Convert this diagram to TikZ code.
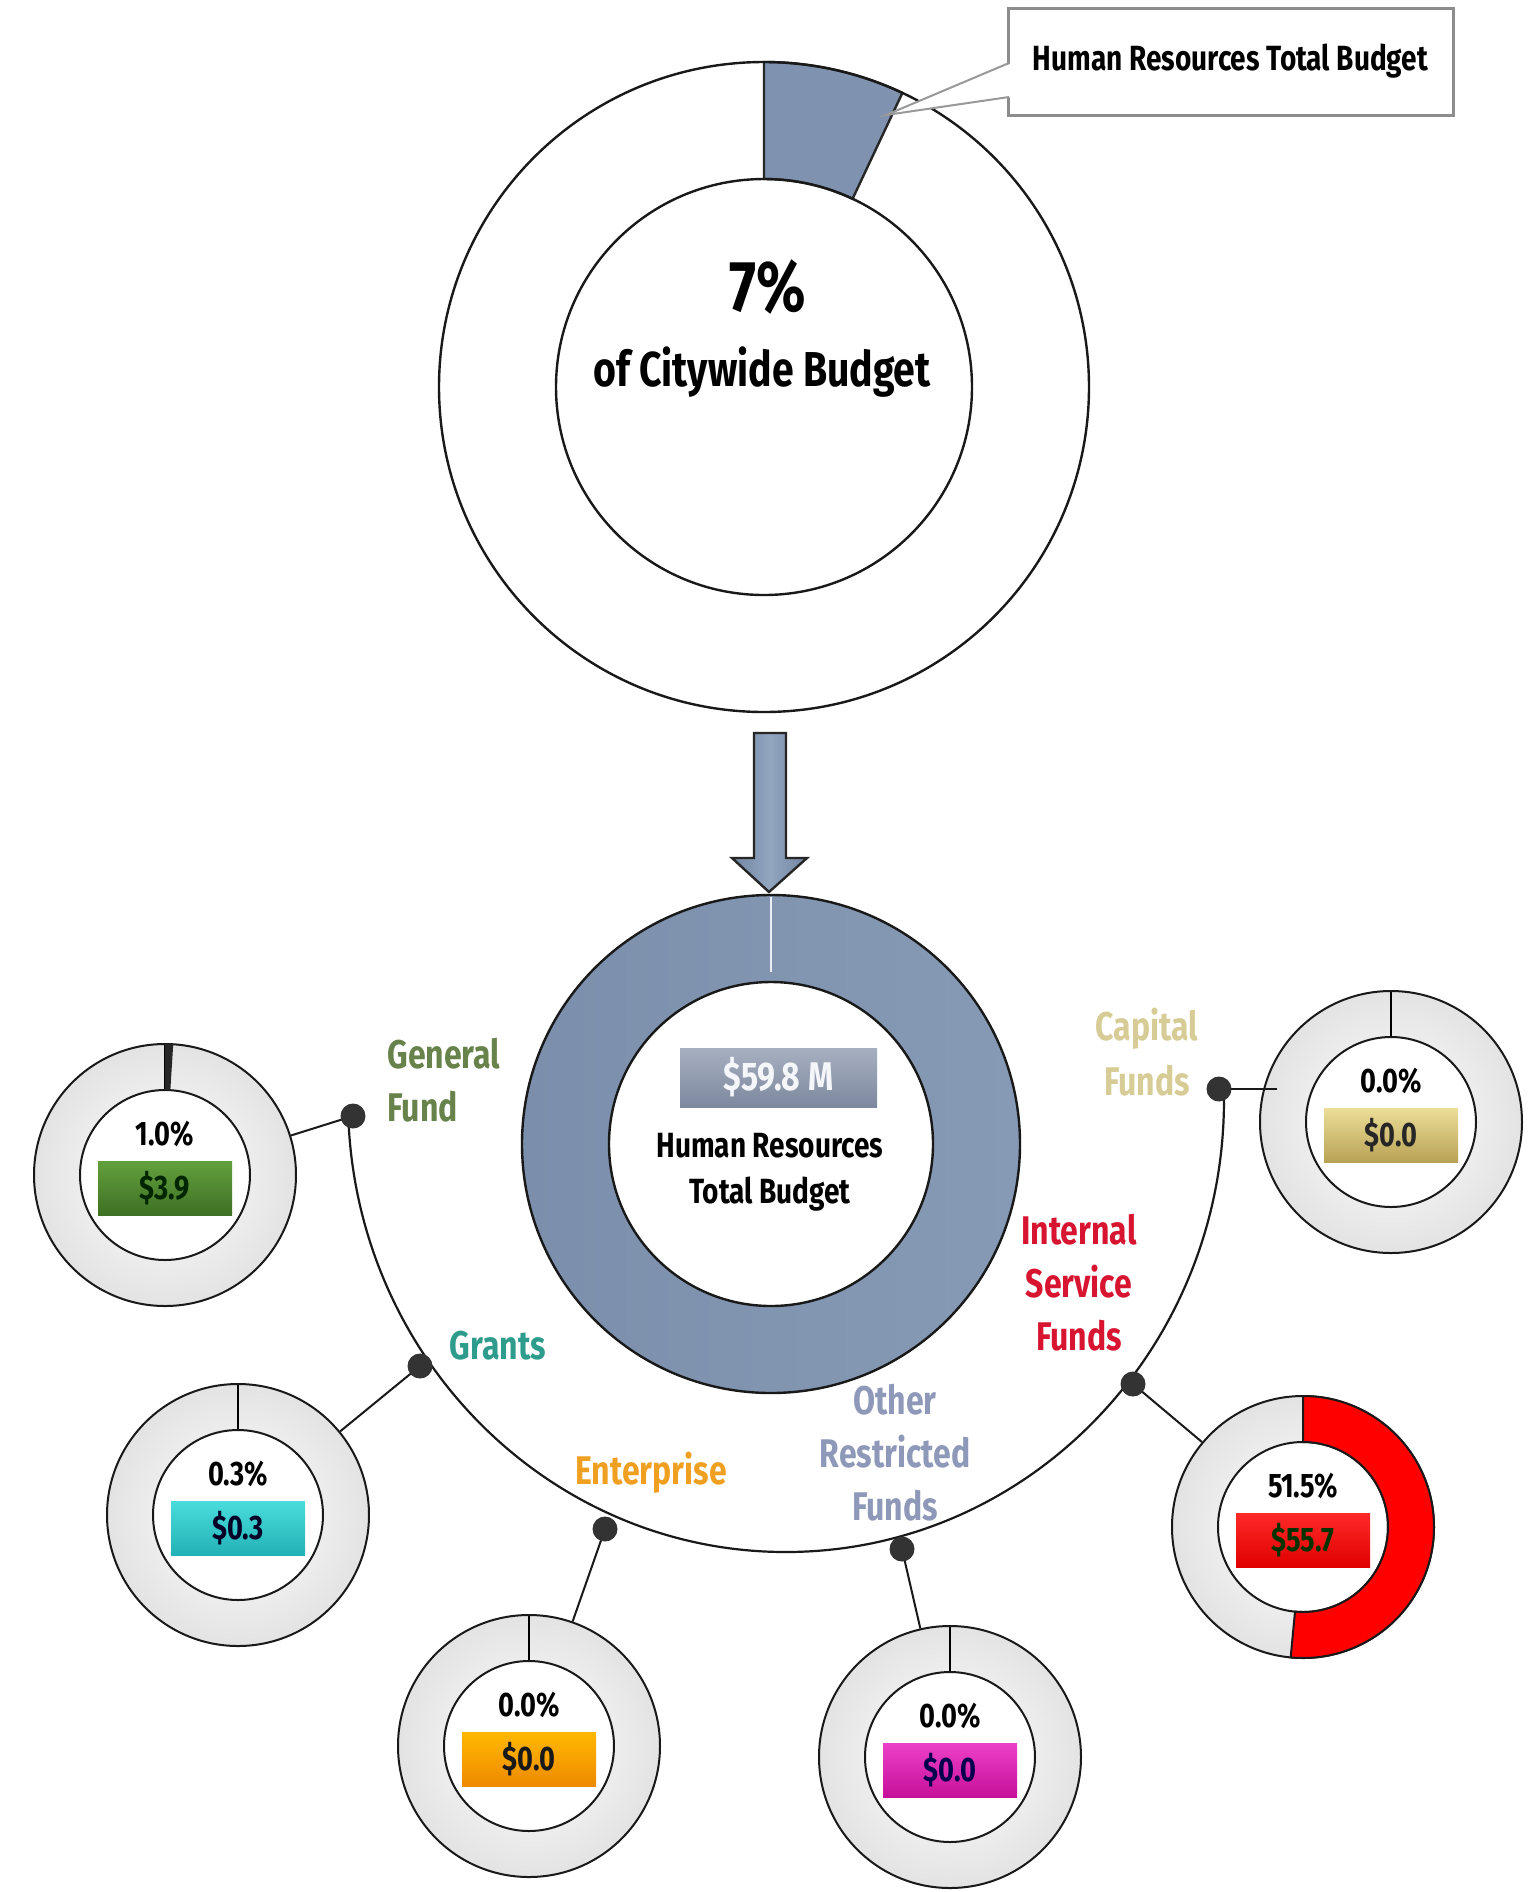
\documentclass[tikz,border=0pt]{standalone}
\usepackage{fontspec}
\setmainfont{Fira Sans}
\newfontfamily\agency{Fira Sans}[FakeStretch=0.8]
\usetikzlibrary{calc}
\definecolor{slate}{HTML}{7F93B0}
\definecolor{slateL}{HTML}{93A6C0}
\definecolor{slateD}{HTML}{7184A2}
\definecolor{midL}{HTML}{7B8EAB}
\definecolor{midR}{HTML}{879AB5}
\definecolor{gfC}{HTML}{67824A}
\definecolor{grC}{HTML}{2E9C8C}
\definecolor{enC}{HTML}{F0A020}
\definecolor{orC}{HTML}{8E98B8}
\definecolor{isC}{HTML}{D81530}
\definecolor{cfC}{HTML}{D8CC96}
\definecolor{gfT}{HTML}{62A03C}\definecolor{gfB}{HTML}{3F7024}
\definecolor{grT}{HTML}{4ADCDC}\definecolor{grB}{HTML}{22B2B6}
\definecolor{enT}{HTML}{FFB800}\definecolor{enB}{HTML}{EE8A00}
\definecolor{orT}{HTML}{EC40C8}\definecolor{orB}{HTML}{C6109A}
\definecolor{isT}{HTML}{FF2A2A}\definecolor{isB}{HTML}{E00000}
\definecolor{cfT}{HTML}{ECDE98}\definecolor{cfB}{HTML}{B8A255}
\definecolor{totT}{HTML}{A7B0C1}\definecolor{totB}{HTML}{7D889E}
\tikzset{
  ring/.style={circle, draw=black!90, line width=1pt, inner sep=0pt},
  dotnode/.style={circle, fill=black!80, inner sep=0pt, minimum size=12.5pt},
  lbl/.style={font=\agency\bfseries\fontsize{20}{26.5}\selectfont, align=center, inner sep=0pt},
  pct/.style={font=\agency\bfseries\fontsize{17}{19}\selectfont, inner sep=0pt},
  valbox/.style={minimum width=67pt, minimum height=27pt, inner sep=0pt, font=\agency\bfseries\fontsize{17}{19}\selectfont},
  conn/.style={draw=black!90, line width=1pt},
}
\newcommand\fundonut[8]{%
  \coordinate (#1c) at (#2,-#3);
  \shade[inner color=white, outer color=black!11, even odd rule] (#1c) circle[radius=131] (#1c) circle[radius=85];
  \draw[line width=1pt] ($(#1c)+(0,131)$) -- ($(#1c)+(0,85)$);
  \node[ring, minimum size=131pt] (#1D) at (#1c) {};
  \node[ring, minimum size=85pt] (#1I) at (#1c) {};
  \node[pct] (#1P) at ($(#1c)+(0,41)$) {#4};
  \node[valbox, top color=#6, bottom color=#7, text=#8] (#1V) at ($(#1c)+(0,-13)$) {#5};
}
\begin{document}
\begin{tikzpicture}[x=0.5pt,y=0.5pt]
\useasboundingbox (0,0) rectangle (1537,-1892);
\fill[white] (0,0) rectangle (1537,-1892);

% ---------- top donut ----------
\coordinate (tc) at (764,-387);
\filldraw[fill=slate, draw=black!85, line width=1.2pt] ($(tc)+(90:325)$) arc[start angle=90, end angle=64.8, radius=325] -- ($(tc)+(64.8:208)$) arc[start angle=64.8, end angle=90, radius=208] -- cycle;
\node[ring, line width=1.2pt, minimum size=325pt] (topD) at (tc) {};
\node[ring, line width=1.2pt, minimum size=208pt] (topI) at (tc) {};
\node[font=\agency\bfseries\fontsize{36}{38}\selectfont] (pct7) at (768,-287) {7\%};
\node[font=\agency\bfseries\fontsize{24.5}{26}\selectfont] (cwb) at (762,-372) {of Citywide Budget};

% callout
\node[draw=black!45, line width=1.5pt, fill=white, minimum width=222.5pt, minimum height=53.5pt, inner sep=0pt, font=\agency\bfseries\fontsize{17.5}{19}\selectfont] (cbox) at (1230.5,-61.5) {Human Resources Total Budget};
\coordinate (cb1) at (1009,-63);
\coordinate (cb2) at (1009,-97);
\coordinate (ctip) at (886,-115);
\fill[white] (1012,-63) -- (ctip) -- (1012,-97) -- cycle;
\draw[black!40, line width=1pt] (cb1) -- (ctip) -- (cb2);

% arrow
\filldraw[draw=black!85, line width=1.2pt, left color=slateD, right color=slateD, middle color=slateL] (754,-733) -- (786,-733) -- (786,-858) -- (807,-858) -- (769,-892) -- (732,-858) -- (754,-858) -- cycle;

% ---------- middle donut ----------
\coordinate (mc) at (771,-1144);
\shade[left color=midL, right color=midR, even odd rule] (mc) circle[radius=249] (mc) circle[radius=162];
\draw[white!85!slate, line width=1.2pt] ($(mc)+(0,247)$) -- ($(mc)+(0,172)$);
\node[ring, line width=1.2pt, minimum size=249pt] (midD) at (mc) {};
\node[ring, line width=1.2pt, minimum size=162pt] (midI) at (mc) {};
\node[minimum width=98.5pt, minimum height=29.5pt, inner sep=0pt, top color=totT, bottom color=totB, text=white!92!slate, font=\agency\bfseries\fontsize{20}{22}\selectfont] (tot) at (778.5,-1077.5) {\$59.8 M};
\node[font=\agency\bfseries\fontsize{17.5}{23}\selectfont, align=center] (hr) at (770,-1172) {Human Resources\\Total Budget};

% ---------- big arc ----------
\draw[line width=1.1pt, black!90] (786,-1100) ++(182:438 and 452) arc[start angle=182, end angle=361.4, x radius=438, y radius=452];

% ---------- small donuts ----------
\fundonut{gf}{165}{1175}{1.0\%}{\$3.9}{gfT}{gfB}{black!85!green}
\fill[black!85] ($(gfc)+(90:131)$) arc[start angle=90, end angle=86.4, radius=131] -- ($(gfc)+(86.4:85)$) arc[start angle=86.4, end angle=90, radius=85] -- cycle;
\fundonut{gr}{238}{1515}{0.3\%}{\$0.3}{grT}{grB}{black!85!blue}
\fundonut{en}{529}{1746}{0.0\%}{\$0.0}{enT}{enB}{black!90}
\fundonut{or}{950}{1757}{0.0\%}{\$0.0}{orT}{orB}{blue!30!black}
\fundonut{is}{1303}{1527}{51.5\%}{\$55.7}{isT}{isB}{black!80!green}
\filldraw[fill=red, draw=black!90, line width=1pt] ($(isc)+(90:131)$) arc[start angle=90, end angle=-95.4, radius=131] -- ($(isc)+(-95.4:85)$) arc[start angle=-95.4, end angle=90, radius=85] -- cycle;
\fundonut{cf}{1391}{1122}{0.0\%}{\$0.0}{cfT}{cfB}{black!85}

% ---------- dots & connectors ----------
\coordinate (pGF) at (353,-1116);
\coordinate (pGR) at (420,-1366);
\coordinate (pEN) at (605,-1529);
\coordinate (pOR) at (902,-1549);
\coordinate (pIS) at (1133,-1384);
\coordinate (pCF) at (1219,-1089);
\coordinate (cfE) at (1277,-1089);
\draw[conn] (pGF) -- (gfD);
\draw[conn] (pGR) -- (grD);
\draw[conn] (pEN) -- (enD);
\draw[conn] (pOR) -- (orD);
\draw[conn] (pIS) -- (isD);
\draw[conn] (pCF) -- (cfE);
\foreach \p in {GF,GR,EN,OR,IS,CF} { \node[dotnode] (d\p) at (p\p) {}; }

% ---------- fund labels ----------
\node[lbl, text=gfC, align=left, anchor=west] (lGF) at (387,-1080) {General\\Fund};
\node[lbl, text=grC] (lGR) at (498,-1346) {Grants};
\node[lbl, text=enC] (lEN) at (651,-1473) {Enterprise};
\node[lbl, text=orC] (lOR) at (895,-1453) {Other\\Restricted\\Funds};
\node[lbl, text=isC] (lIS) at (1079,-1283) {Internal\\Service\\Funds};
\node[lbl, text=cfC, font=\agency\bfseries\fontsize{20}{27.5}\selectfont] (lCF) at (1147,-1052) {Capital\\Funds};
\end{tikzpicture}
\end{document}
